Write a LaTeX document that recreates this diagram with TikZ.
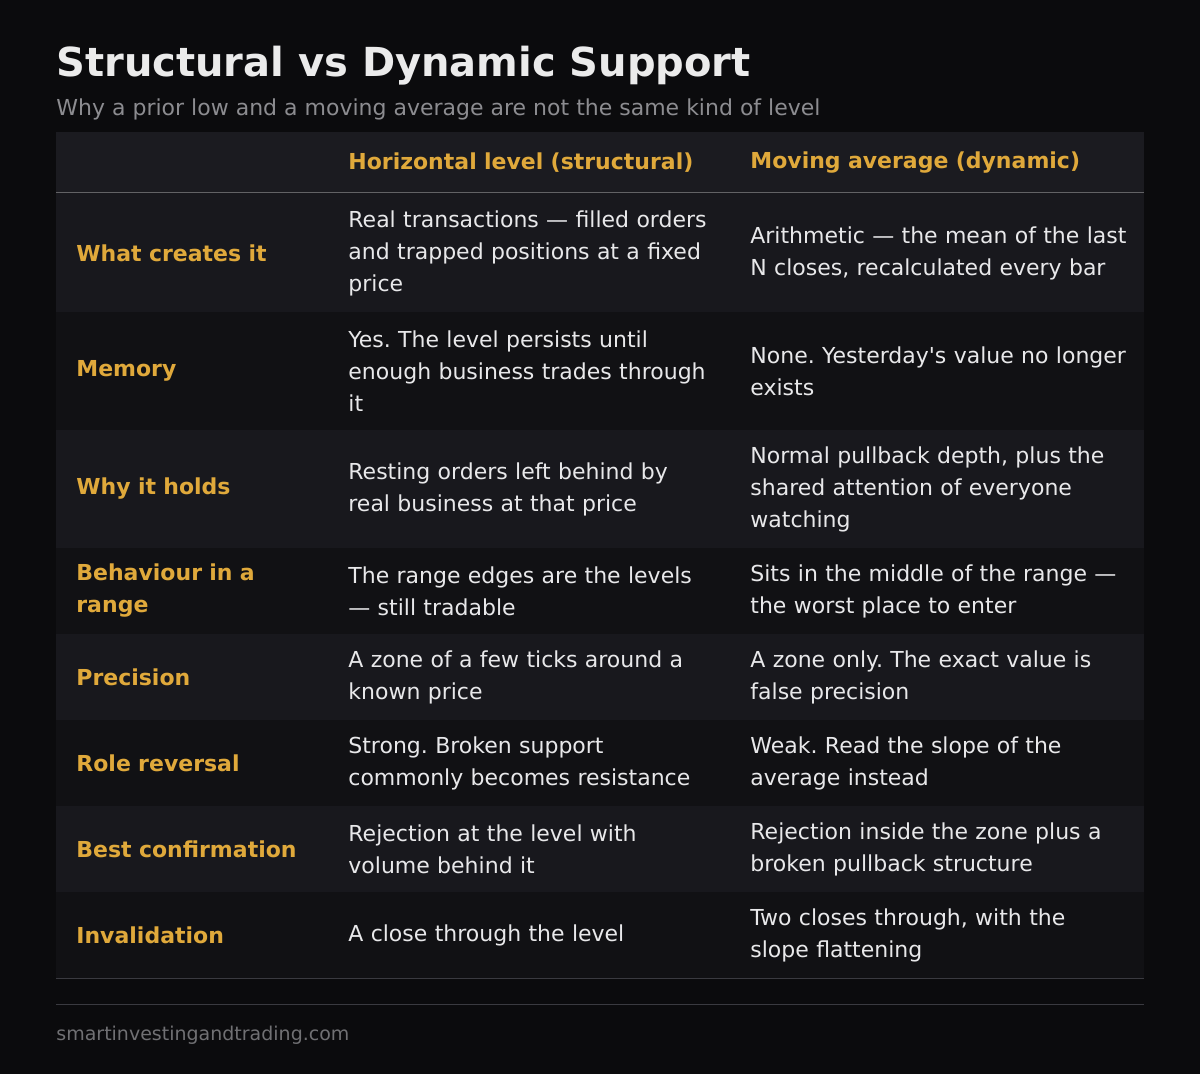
\documentclass[tikz,border=0pt]{standalone}
\usepackage{fontspec}
\setmainfont{DejaVu Sans}
\usetikzlibrary{positioning}
\frenchspacing
\hyphenpenalty=10000
\exhyphenpenalty=10000
\definecolor{bgdark}{HTML}{0B0B0D}
\definecolor{headrow}{HTML}{1B1B20}
\definecolor{rowlight}{HTML}{18181D}
\definecolor{rowdark}{HTML}{111114}
\definecolor{gold}{HTML}{E0A93B}
\definecolor{bodytext}{HTML}{E8E8EA}
\definecolor{greytext}{HTML}{8C8C90}
\definecolor{rule}{HTML}{3A3A40}
\tikzset{
    cell/.style = {anchor=west, align=left, inner sep=0pt, font=\fontsize{11pt}{16pt}\selectfont},
    label/.style = {cell, text=gold, text width=115pt, font=\bfseries\fontsize{11pt}{16pt}\selectfont},
    struct/.style = {cell, text=bodytext, text width=182pt},
    dyn/.style = {cell, text=bodytext, text width=188.5pt}
}
\begin{document}
\begin{tikzpicture}[x=0.5pt, y=-0.5pt]
    \fill[bgdark] (0,0) rectangle (1200,1074);
    \useasboundingbox (0,0) rectangle (1200,1074);
    % title block
    \node[anchor=base west, inner sep=0pt, text=white!92!black, font=\bfseries\fontsize{20pt}{24pt}\selectfont] (title) at (56,77) {Structural vs Dynamic Support};
    \node[anchor=base west, inner sep=0pt, text=greytext, font=\fontsize{11pt}{12pt}\selectfont] (subtitle) at (56,116) {Why a prior low and a moving average are not the same kind of level};
    % row backgrounds
    \fill[headrow] (56,132) rectangle (1144,193);
    \foreach \top/\bot/\shade in {193/312/rowlight, 312/430/rowdark, 430/548/rowlight, 548/634/rowdark,
        634/720/rowlight, 720/806/rowdark, 806/892/rowlight, 892/978/rowdark}
        \fill[\shade] (56,\top) rectangle (1144,\bot);
    \draw[greytext!70!black, line width=0.5pt] (56,193) -- (1144,193);
    \draw[rule, line width=0.5pt] (56,978) -- (1144,978);
    % header
    \node[label, text width=200pt] (hstruct) at (348,163) {Horizontal level (structural)};
    \node[label, text width=200pt] (hdyn) at (750,163) {Moving average (dynamic)};
    % rows
    \node[label] (create) at (76,253) {What creates it};
    \node[struct] (createS) at (348,253) {Real transactions — filled orders and trapped positions at a fixed price};
    \node[dyn] (createD) at (750,253) {Arithmetic — the mean of the last N closes, recalculated every bar};
    \node[label] (memory) at (76,371) {Memory};
    \node[struct] (memoryS) at (348,371) {Yes. The level persists until enough business trades through it};
    \node[dyn] (memoryD) at (750,371) {None. Yesterday\textquotesingle s value no longer exists};
    \node[label] (holds) at (76,489) {Why it holds};
    \node[struct] (holdsS) at (348,489) {Resting orders left behind by real business at that price};
    \node[dyn] (holdsD) at (750,489) {Normal pullback depth, plus the shared attention of everyone watching};
    \node[label] (range) at (76,591) {Behaviour in a range};
    \node[struct] (rangeS) at (348,591) {The range edges are the levels — still tradable};
    \node[dyn] (rangeD) at (750,591) {Sits in the middle of the range — the worst place to enter};
    \node[label] (precision) at (76,677) {Precision};
    \node[struct] (precisionS) at (348,677) {A zone of a few ticks around a known price};
    \node[dyn] (precisionD) at (750,677) {A zone only. The exact value is false precision};
    \node[label] (reversal) at (76,763) {Role reversal};
    \node[struct] (reversalS) at (348,763) {Strong. Broken support commonly becomes resistance};
    \node[dyn] (reversalD) at (750,763) {Weak. Read the slope of the average instead};
    \node[label] (confirm) at (76,849) {Best confirmation};
    \node[struct] (confirmS) at (348,849) {Rejection at the level with volume behind it};
    \node[dyn] (confirmD) at (750,849) {Rejection inside the zone plus a broken pullback structure};
    \node[label] (invalid) at (76,935) {Invalidation};
    \node[struct] (invalidS) at (348,935) {A close through the level};
    \node[dyn] (invalidD) at (750,935) {Two closes through, with the slope flattening};
    % footer
    \draw[rule, line width=0.5pt] (56,1004) -- (1144,1004);
    \node[anchor=base west, inner sep=0pt, text=greytext!80!black, font=\fontsize{9.5pt}{11pt}\selectfont] (footer) at (56,1040) {smartinvestingandtrading.com};
\end{tikzpicture}
\end{document}
